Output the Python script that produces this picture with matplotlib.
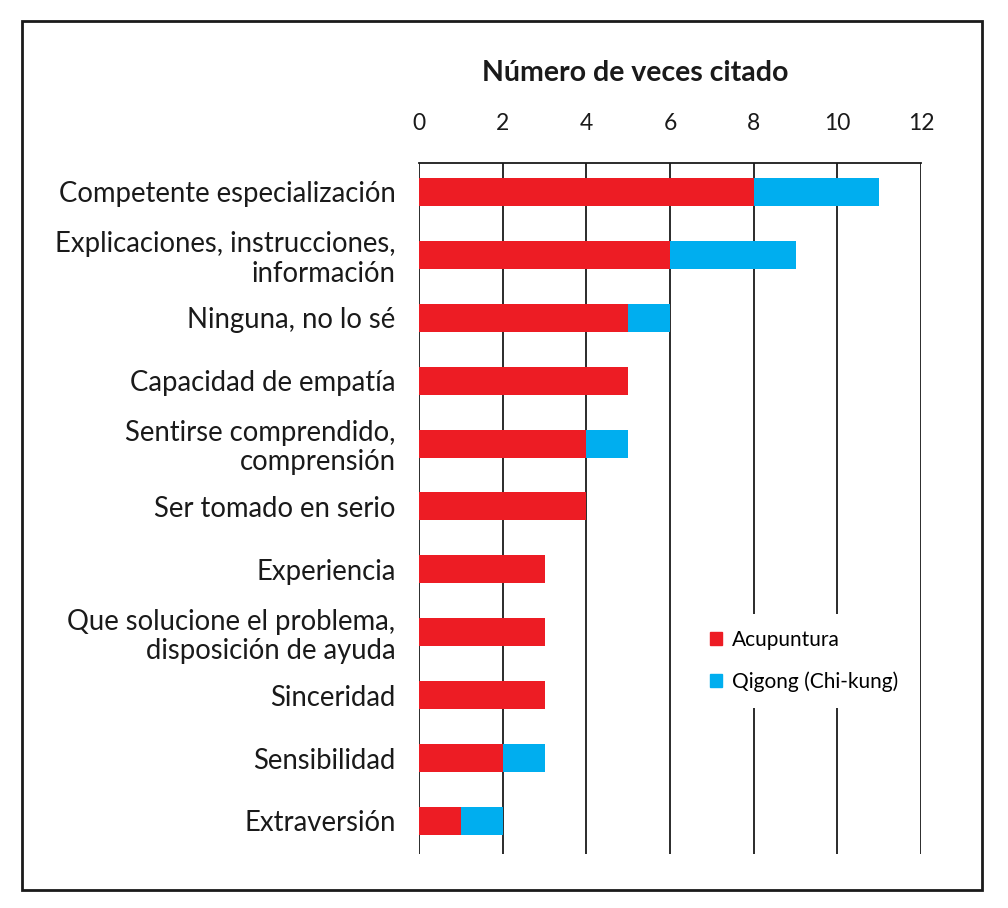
import matplotlib
matplotlib.use("Agg")
import matplotlib.pyplot as plt
from matplotlib.patches import Rectangle, Patch
import numpy as np

categories = [
    "Competente especialización",
    "Explicaciones, instrucciones,\ninformación",
    "Ninguna, no lo sé",
    "Capacidad de empatía",
    "Sentirse comprendido,\ncomprensión",
    "Ser tomado en serio",
    "Experiencia",
    "Que solucione el problema,\ndisposición de ayuda",
    "Sinceridad",
    "Sensibilidad",
    "Extraversión",
]
acupuntura = [8, 6, 5, 5, 4, 4, 3, 3, 3, 2, 1]
qigong = [3, 3, 1, 0, 1, 0, 0, 0, 0, 1, 1]
series_names = ["Acupuntura", "Qigong (Chi-kung)"]
x_ticks = [0, 2, 4, 6, 8, 10, 12]

RED = "#ED1C24"
BLUE = "#00AEEF"

plt.rcParams["font.family"] = ["Lato", "DejaVu Sans"]

W, H = 1008, 908
fig = plt.figure(figsize=(W / 100, H / 100), dpi=100)

# axes placed in pixel terms of the reference
ax = fig.add_axes([419 / W, (H - 854) / H, 502 / W, 691 / H])
y = np.arange(len(categories))
ax.barh(y, acupuntura, height=0.445, color=RED, zorder=3)
ax.barh(y, qigong, left=acupuntura, height=0.445, color=BLUE, zorder=3)

ax.set_xlim(0, 12)
ax.set_ylim(10.525, -0.461)
ax.set_xticks(x_ticks)
ax.xaxis.tick_top()
ax.tick_params(axis="x", length=0, pad=21, labelsize=16.5, colors="#1a1a1a")
ax.set_yticks(y)
ax.set_yticklabels(categories, fontsize=19.8, color="#1a1a1a", linespacing=1.15)
ax.tick_params(axis="y", length=0, pad=17)
ax.grid(axis="x", color="#1a1a1a", linewidth=1.3, zorder=1)
for s in ["right", "bottom", "left"]:
    ax.spines[s].set_visible(False)
ax.spines["top"].set_linewidth(1.3)
ax.spines["top"].set_color("#1a1a1a")

fig.text(635 / W, (H - 73) / H, "Número de veces citado", ha="center", va="center",
         fontsize=20.5, fontweight="bold", color="#1a1a1a")

handles = [Patch(color=RED), Patch(color=BLUE)]
leg = fig.legend(handles, series_names, loc="upper left",
                 bbox_to_anchor=(694 / W, (H - 614) / H), frameon=True,
                 fontsize=15, handlelength=0.6, handleheight=0.6,
                 handletextpad=0.45, labelspacing=1.05, borderpad=0.75,
                 borderaxespad=0)
leg.get_frame().set_facecolor("white")
leg.get_frame().set_edgecolor("none")
leg.get_frame().set_alpha(1)
leg.set_zorder(5)

fig.patches.append(Rectangle((22 / W, (H - 890) / H), 960 / W, 869 / H,
                             transform=fig.transFigure, fill=False,
                             edgecolor="#1a1a1a", linewidth=2))

fig.savefig("out.png", dpi=100)
